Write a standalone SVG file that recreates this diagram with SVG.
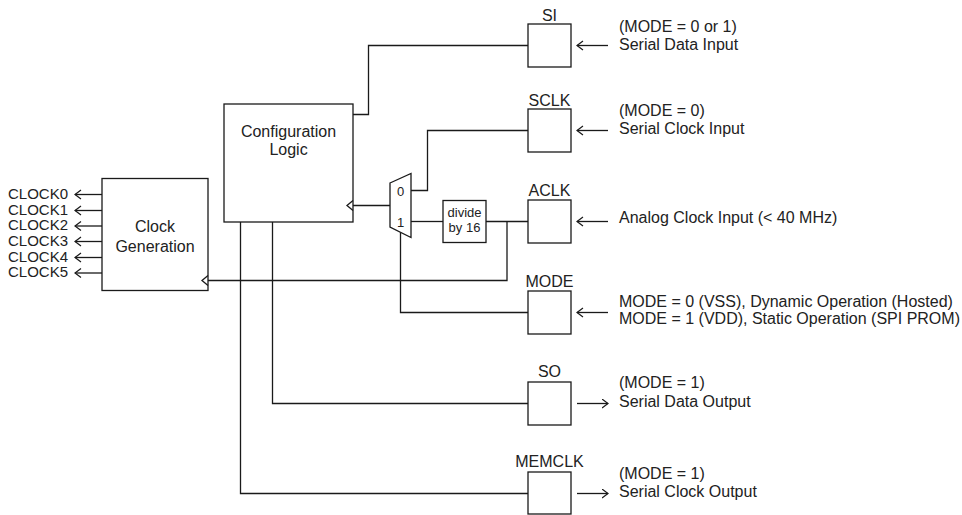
<svg xmlns="http://www.w3.org/2000/svg" width="962" height="515" viewBox="0 0 962 515">
<style>
  .box{fill:#fff;stroke:#1a1a1a;stroke-width:1.3}
  .ln{fill:none;stroke:#1a1a1a;stroke-width:1.3}
  .t{font-family:"Liberation Sans",Arial,Helvetica,sans-serif;font-size:16px;fill:#222}
  .c{text-anchor:middle}
  .s13{font-size:13px}
  .s15{font-size:15px}
</style>
<defs>
  <marker id="arr" markerUnits="userSpaceOnUse" markerWidth="8" markerHeight="11" refX="6.5" refY="5" orient="auto">
    <path d="M0.5,0.5 L6.5,5 L0.5,9.5" fill="none" stroke="#1a1a1a" stroke-width="1.2"/>
  </marker>
</defs>
<rect width="962" height="515" fill="#fff"/>

<g id="connectors">
  <!-- Config -> SI -->
  <polyline class="ln" points="353,114.5 368.5,114.5 368.5,45.5 528,45.5"/>
  <!-- Mux 0 -> SCLK -->
  <polyline class="ln" points="411,190.5 427.5,190.5 427.5,130.5 528,130.5"/>
  <!-- Mux out -> Config clock -->
  <line class="ln" x1="390" y1="205.5" x2="353" y2="205.5"/>
  <!-- Mux 1 -> divide -->
  <line class="ln" x1="411" y1="221.5" x2="443" y2="221.5"/>
  <!-- divide -> ACLK -->
  <line class="ln" x1="486" y1="221.5" x2="528" y2="221.5"/>
  <!-- ACLK junction -> Clock Generation -->
  <polyline class="ln" points="507,221.5 507,280.5 208,280.5"/>
  <!-- Mux select <- MODE -->
  <polyline class="ln" points="400.5,232.3 400.5,312.5 528,312.5"/>
  <!-- Config -> SO -->
  <polyline class="ln" points="272.5,222 272.5,403.5 528,403.5"/>
  <!-- Config -> MEMCLK -->
  <polyline class="ln" points="240.5,222 240.5,493.5 528,493.5"/>
  <!-- CLOCK outputs -->
  <line class="ln" x1="102" y1="194.5" x2="75" y2="194.5" marker-end="url(#arr)"/>
  <line class="ln" x1="102" y1="210.5" x2="75" y2="210.5" marker-end="url(#arr)"/>
  <line class="ln" x1="102" y1="226" x2="75" y2="226" marker-end="url(#arr)"/>
  <line class="ln" x1="102" y1="241.5" x2="75" y2="241.5" marker-end="url(#arr)"/>
  <line class="ln" x1="102" y1="257.5" x2="75" y2="257.5" marker-end="url(#arr)"/>
  <line class="ln" x1="102" y1="273" x2="75" y2="273" marker-end="url(#arr)"/>
  <!-- pin external arrows -->
  <line class="ln" x1="608" y1="45.5" x2="577" y2="45.5" marker-end="url(#arr)"/>
  <line class="ln" x1="608" y1="130.5" x2="577" y2="130.5" marker-end="url(#arr)"/>
  <line class="ln" x1="608" y1="221.5" x2="577" y2="221.5" marker-end="url(#arr)"/>
  <line class="ln" x1="608" y1="312.5" x2="577" y2="312.5" marker-end="url(#arr)"/>
  <line class="ln" x1="577" y1="403.5" x2="608" y2="403.5" marker-end="url(#arr)"/>
  <line class="ln" x1="577" y1="493.5" x2="608" y2="493.5" marker-end="url(#arr)"/>
</g>

<g id="clockgen">
  <rect class="box" x="102" y="178.5" width="106" height="112"/>
  <path class="ln" d="M208,275.5 L202,280.5 L208,285.5"/>
  <text class="t c" x="155" y="232">Clock</text>
  <text class="t c" x="155" y="251.5">Generation</text>
</g>

<g id="clocklabels">
  <text class="t s15" x="8" y="198.5">CLOCK0</text>
  <text class="t s15" x="8" y="214.5">CLOCK1</text>
  <text class="t s15" x="8" y="230">CLOCK2</text>
  <text class="t s15" x="8" y="245.5">CLOCK3</text>
  <text class="t s15" x="8" y="261.5">CLOCK4</text>
  <text class="t s15" x="8" y="277">CLOCK5</text>
</g>

<g id="config">
  <rect class="box" x="224" y="104" width="129" height="118"/>
  <path class="ln" d="M353,200.5 L347,205.5 L353,210.5"/>
  <text class="t c" x="288.5" y="136.5">Configuration</text>
  <text class="t c" x="288.5" y="155">Logic</text>
</g>

<g id="mux">
  <polygon class="box" points="390,183 411,173.5 411,237.5 390,227"/>
  <text class="t s13 c" x="400.5" y="195.5">0</text>
  <text class="t s13 c" x="400.5" y="226.5">1</text>
</g>

<g id="divide">
  <rect class="box" x="443" y="200.5" width="43" height="42"/>
  <text class="t s13 c" x="464.5" y="217">divide</text>
  <text class="t s13 c" x="464.5" y="232">by 16</text>
</g>

<g id="pin-si">
  <rect class="box" x="528" y="24" width="43" height="43"/>
  <text class="t c" x="549.5" y="20.5">SI</text>
  <text class="t" x="619" y="32">(MODE = 0 or 1)</text>
  <text class="t" x="619" y="49.5">Serial Data Input</text>
</g>

<g id="pin-sclk">
  <rect class="box" x="528" y="109" width="43" height="43"/>
  <text class="t c" x="549.5" y="105.5">SCLK</text>
  <text class="t" x="619" y="115.5">(MODE = 0)</text>
  <text class="t" x="619" y="133.5">Serial Clock Input</text>
</g>

<g id="pin-aclk">
  <rect class="box" x="528" y="200" width="43" height="43"/>
  <text class="t c" x="549.5" y="196">ACLK</text>
  <text class="t" x="619" y="223">Analog Clock Input (&lt; 40 MHz)</text>
</g>

<g id="pin-mode">
  <rect class="box" x="528" y="291" width="43" height="43"/>
  <text class="t c" x="549.5" y="286.5">MODE</text>
  <text class="t" x="619" y="307">MODE = 0 (VSS), Dynamic Operation (Hosted)</text>
  <text class="t" x="619" y="324">MODE = 1 (VDD), Static Operation (SPI PROM)</text>
</g>

<g id="pin-so">
  <rect class="box" x="528" y="382" width="43" height="43"/>
  <text class="t c" x="549.5" y="376.5">SO</text>
  <text class="t" x="619" y="387.5">(MODE = 1)</text>
  <text class="t" x="619" y="406.5">Serial Data Output</text>
</g>

<g id="pin-memclk">
  <rect class="box" x="528" y="472" width="43" height="42"/>
  <text class="t c" x="549.5" y="467">MEMCLK</text>
  <text class="t" x="619" y="478.5">(MODE = 1)</text>
  <text class="t" x="619" y="496.5">Serial Clock Output</text>
</g>
</svg>
